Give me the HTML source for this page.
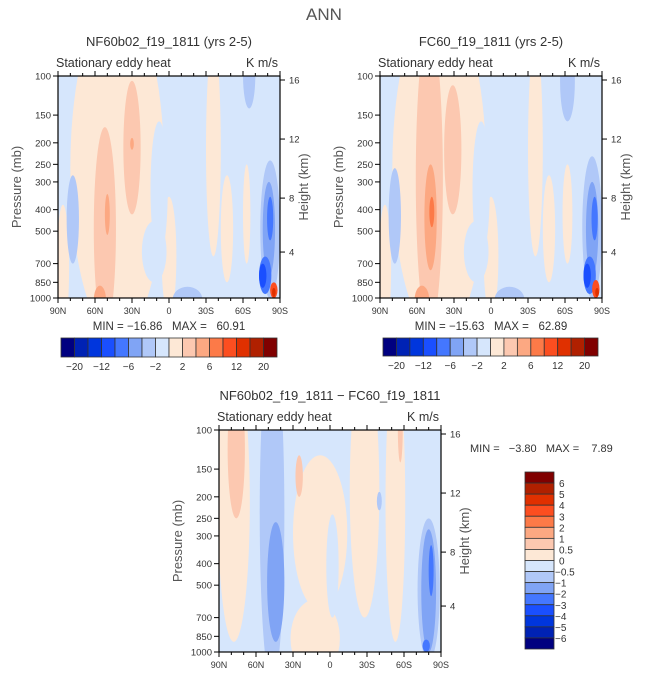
<!DOCTYPE html>
<html><head><meta charset="utf-8"><style>
body{margin:0;background:#fff;}
svg{display:block;font-family:"Liberation Sans",sans-serif;}
</style></head><body>
<svg id="fig" width="648" height="676" viewBox="0 0 648 676">
<text x="324" y="20" font-size="17" text-anchor="middle" fill="#555">ANN</text>
</svg>
<script>
const COLORS=['#000080','#0022b4','#0036dd','#1a4fff','#4477ff','#80a4f5','#b0c8f8','#d6e6fc','#fde8d6','#fcc8b0','#fca882','#fc7a48','#fc4e20','#e03000','#b02000','#800000'];
const cbLabelsTop=['-20','-12','-6','-2','2','6','12','20'];
const cbLabelsDiff=['6','5','4','3','2','1','0.5','0','-0.5','-1','-2','-3','-4','-5','-6'];
const xTickLabels=['90N','60N','30N','0','30S','60S','90S'];
const xTickLats=[90,60,30,0,-30,-60,-90];
const pTicks=[100,150,200,250,300,400,500,700,850,1000];
const zTicks=[16,12,8,4];
const zFrac=[0.018,0.284,0.550,0.793];
// features: [centerLat, latHalfWidth, pTop, pBottom, colorIndex]
const feat1=[
 [42,38,45,1500,8],[86,5,380,1400,8],[0,6,350,1200,8],[-36,6,70,650,8],[-47,5,280,850,8],[-63,3,250,700,8],
 [8,7,160,650,7],[12,10,450,850,7],
 [52,9,170,1400,9],[30,7,105,420,9],[50,2,340,520,10],[56,5,880,1200,10],[30,1.5,190,215,10],
 [78,5,280,700,6],[-65,5,70,140,6],[-15,12,890,1150,6],[-82,8,240,1000,6],
 [-81,5,300,800,5],[-82,2.5,350,550,4],[-78,5,650,960,4],[-76,3,700,900,3],
 [-85,3,850,1000,12],[-85,1.5,900,990,13]];
const feat2=[
 [42,38,45,1500,8],[86,5,380,1400,8],[0,6,350,1200,8],[-36,6,70,650,8],[-47,5,280,850,8],[-62,4,250,700,8],
 [8,7,160,650,7],[12,10,450,850,7],
 [50,11,60,1400,9],[31,7,110,420,9],[49,5,250,750,10],[48,2,350,480,11],[56,6,880,1200,10],
 [78,5,260,700,6],[-62,6,70,160,6],[-15,12,890,1150,6],[-82,8,230,1000,6],
 [-82,5,300,800,5],[-84,2.5,350,550,4],[-80,5,650,960,4],[-78,3,700,900,3],
 [-85,3,830,1000,12],[-86,1.5,900,990,13]];
const featD=[
 [78,13,50,900,8],[76,7,60,250,9],[8,22,130,650,8],[12,20,580,1300,8],[-28,12,50,700,8],[-53,8,50,900,8],[-57,2,70,140,9],[25,3,130,200,9],
 [-2,5,240,700,7],
 [47,10,40,1400,6],[44,7,260,900,5],[-80,9,250,1100,6],[-80,6,280,1000,5],[-82,2,330,560,4],[-40,2,190,230,6],[-78,3,880,1000,4]];

const svg=document.getElementById('fig');
const NS='http://www.w3.org/2000/svg';
function el(tag,attrs,parent){const e=document.createElementNS(NS,tag);for(const k in attrs)e.setAttribute(k,attrs[k]);(parent||svg).appendChild(e);return e;}

function panel(id,x0,y0,w,h,feats,bg,title){
 const g=el('g',{});
 
 
 const xs=lat=>x0+(90-lat)/180*w;
 const ys=p=>y0+(Math.log10(p)-2)*h;
 const cp=el('clipPath',{id:'clip-'+id},g);
 el('rect',{x:x0,y:y0,width:w,height:h},cp);
 const bgr=el('rect',{x:x0,y:y0,width:w,height:h,fill:COLORS[bg]},g);
 
 
 const fg=el('g',{'clip-path':'url(#clip-'+id+')'},g);
 feats.forEach(f=>{
  const cx=xs(f[0]),rx=f[1]/180*w,y1=ys(f[2]),y2=ys(f[3]);
  const e=el('ellipse',{cx:cx,cy:(y1+y2)/2,rx:rx,ry:(y2-y1)/2,fill:COLORS[f[4]]},fg);
  
  
 });
 el('rect',{x:x0,y:y0,width:w,height:h,fill:'none',stroke:'#000','stroke-width':1.2},g);
 for(let lat=90;lat>=-90;lat-=10){
  const x=xs(lat),maj=lat%30===0;
  el('line',{x1:x,x2:x,y1:y0+h,y2:y0+h+(maj?5:3),stroke:'#000'},g);
  el('line',{x1:x,x2:x,y1:y0,y2:y0-(maj?5:3),stroke:'#000'},g);
 }
 xTickLats.forEach((lat,i)=>{const t=el('text',{x:xs(lat),y:y0+h+16,'font-size':9,'text-anchor':'middle',fill:'#333'},g);t.textContent=xTickLabels[i];
  });
 pTicks.forEach(p=>{const y=ys(p);el('line',{x1:x0,x2:x0-5,y1:y,y2:y,stroke:'#000'},g);
  const t=el('text',{x:x0-7,y:y+3.5,'font-size':9.5,'text-anchor':'end',fill:'#333'},g);t.textContent=p;
  });
 zTicks.forEach((z,i)=>{const y=y0+zFrac[i]*h;el('line',{x1:x0+w,x2:x0+w+5,y1:y,y2:y,stroke:'#000'},g);
  const t=el('text',{x:x0+w+9,y:y+3.5,'font-size':9.5,fill:'#333'},g);t.textContent=z;
  });
 const yl=el('text',{x:0,y:0,'font-size':13,'text-anchor':'middle',fill:'#555',transform:`translate(${x0-37},${y0+h/2}) rotate(-90)`},g);yl.textContent='Pressure (mb)';
 
 const yr=el('text',{x:0,y:0,'font-size':13,'text-anchor':'middle',fill:'#555',transform:`translate(${x0+w+28},${y0+h/2}) rotate(-90)`},g);yr.textContent='Height (km)';
 
 const st=el('text',{x:x0-2,y:y0-9,'font-size':12.5,fill:'#333'},g);st.textContent='Stationary eddy heat';
 
 const un=el('text',{x:x0+w-2,y:y0-9,'font-size':12.5,'text-anchor':'end',fill:'#333'},g);un.textContent='K m/s';
 
 const tt=el('text',{x:x0+w/2,y:y0-30,'font-size':13,'text-anchor':'middle',fill:'#333'},g);tt.textContent=title;
 
 return g;
}
panel('panel-nf60',58,76,222,222,feat1,7,'NF60b02_f19_1811 (yrs 2-5)');
panel('panel-fc60',380,76,222,222,feat2,7,'FC60_f19_1811 (yrs 2-5)');
panel('panel-diff',219,430,222,222,featD,7,'NF60b02_f19_1811 \u2212 FC60_f19_1811');

function txt(x,y,s,size,anchor,name){const t=el('text',{x:x,y:y,'font-size':size,'text-anchor':anchor,fill:'#333'});t.style.whiteSpace='pre';t.textContent=s;
 }
txt(169,330,'MIN = \u221216.86   MAX =   60.91',11.5,'middle','minmax-label');
txt(491,330,'MIN = \u221215.63   MAX =   62.89',11.5,'middle','minmax-label');
txt(470,452,'MIN =   \u22123.80   MAX =    7.89',11,'start','minmax-label');

function hbar(x0,y0,w,h,name){
 const g=el('g',{});
 const bw=w/16;
 COLORS.forEach((c,i)=>{const r=el('rect',{x:x0+i*bw,y:y0,width:bw,height:h,fill:c,stroke:'#333','stroke-width':0.8},g);
  });
 cbLabelsTop.forEach((l,i)=>{const t=el('text',{x:x0+(2*i+1)*bw,y:y0+h+13,'font-size':10,'text-anchor':'middle',fill:'#333'},g);
  t.textContent=l.replace('-','\u2212');});
}
hbar(61,338,216,19,'colorbar-nf60');
hbar(383,338,215,18,'colorbar-fc60');
(function(){
 const x0=525,y0=472,w=29,h=177,bh=h/16;
 const g=el('g',{});
 COLORS.slice().reverse().forEach((c,i)=>{const r=el('rect',{x:x0,y:y0+i*bh,width:w,height:bh,fill:c,stroke:'#333','stroke-width':0.8},g);
  });
 cbLabelsDiff.forEach((l,i)=>{const t=el('text',{x:x0+w+(l.startsWith('-')?1:5),y:y0+(i+1)*bh+4,'font-size':10,fill:'#333'},g);
  t.textContent=l.replace('-','\u2212');});
})();
</script>
</body></html>
